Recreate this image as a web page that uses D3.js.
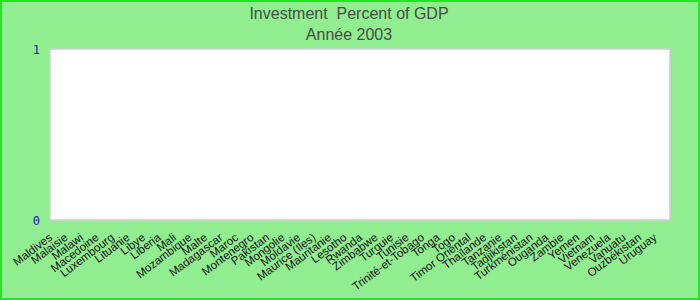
<!DOCTYPE html>
<html><head><meta charset="utf-8">
<script src="https://cdn.jsdelivr.net/npm/d3@7"></script>
<style>body{margin:0;background:#fff}svg{display:block}</style>
</head><body>
<script>
const categories = ["Maldives","Malaisie","Malawi","Macedoine","Luxembourg","Lituanie","Libye","Liberia","Mali","Mozambique","Malte","Madagascar","Maroc","Montenegro","Pakistan","Mongolie","Moldavie","Maurice (Iles)","Mauritanie","Lesotho","Rwanda","Zimbabwe","Turquie","Tunisie","Trinité-et-Tobago","Tonga","Togo","Timor Oriental","Thaïlande","Tanzanie","Tadjikistan","Turkménistan","Ouganda","Zambie","Yemen","Vietnam","Venezuela","Vanuatu","Ouzbékistan","Uruguay"];
const values = [0,0,0,0,0,0,0,0,0,0,0,0,0,0,0,0,0,0,0,0,0,0,0,0,0,0,0,0,0,0,0,0,0,0,0,0,0,0,0,0];
const yTicks = [0, 1];
const titleLines = ["Investment  Percent of GDP", "Année 2003"];

const W = 700, H = 300;
const m = {left: 50, right: 30, top: 49, bottom: 80};
const svg = d3.select("body").append("svg").attr("width", W).attr("height", H);

svg.append("rect").attr("x",1).attr("y",1).attr("width",W-2).attr("height",H-2)
  .attr("fill","#90ee90").attr("stroke","#22e622").attr("stroke-width",2);

const x = d3.scaleBand().domain(categories).range([m.left, W - m.right]);
const y = d3.scaleLinear().domain([0, 1]).range([H - m.bottom, m.top]);

svg.append("rect").attr("x", m.left).attr("y", m.top)
  .attr("width", W - m.left - m.right).attr("height", H - m.top - m.bottom)
  .attr("fill", "#fff").attr("stroke", "#d0d0d0").attr("stroke-width", 1.5);

// bars (all zero)
svg.append("g").selectAll("rect").data(values).join("rect")
  .attr("x", (d,i) => x(categories[i]) + 2)
  .attr("width", x.bandwidth() - 4)
  .attr("y", d => y(d))
  .attr("height", d => y(0) - y(d))
  .attr("fill", "#4060c0");

// title
svg.append("g").selectAll("text").data(titleLines).join("text")
  .attr("x", 349).attr("y", (d,i) => 19 + i*20.5)
  .attr("text-anchor","middle")
  .style("white-space","pre")
  .attr("font-family","Liberation Sans, Arial, sans-serif")
  .attr("font-size", 16).attr("fill","#4a4a4a")
  .text(d => d);

// y axis
const yAxis = svg.append("g").attr("transform", `translate(${m.left},0)`)
  .call(d3.axisLeft(y).tickValues(yTicks).tickSize(0).tickPadding(10).tickFormat(d3.format("d")));
yAxis.select(".domain").remove();
yAxis.selectAll("text").attr("font-family","DejaVu Sans Mono, monospace")
  .attr("font-size", 12).attr("fill","#1a1ab0").attr("dy","0.35em");

// x axis labels
const xAxis = svg.append("g").attr("transform", `translate(0,${H - m.bottom})`)
  .call(d3.axisBottom(x).tickSize(0).tickPadding(0));
xAxis.select(".domain").remove();
xAxis.selectAll(".tick").attr("transform", d => `translate(${x(d) + 3},0)`);
xAxis.selectAll("text")
  .attr("font-family","Liberation Sans, Arial, sans-serif")
  .attr("font-size", 11.5).attr("fill","#111")
  .attr("text-anchor","end")
  .attr("dy", null).attr("y", null)
  .attr("transform","translate(0,19) rotate(-37)");
</script>
</body></html>
